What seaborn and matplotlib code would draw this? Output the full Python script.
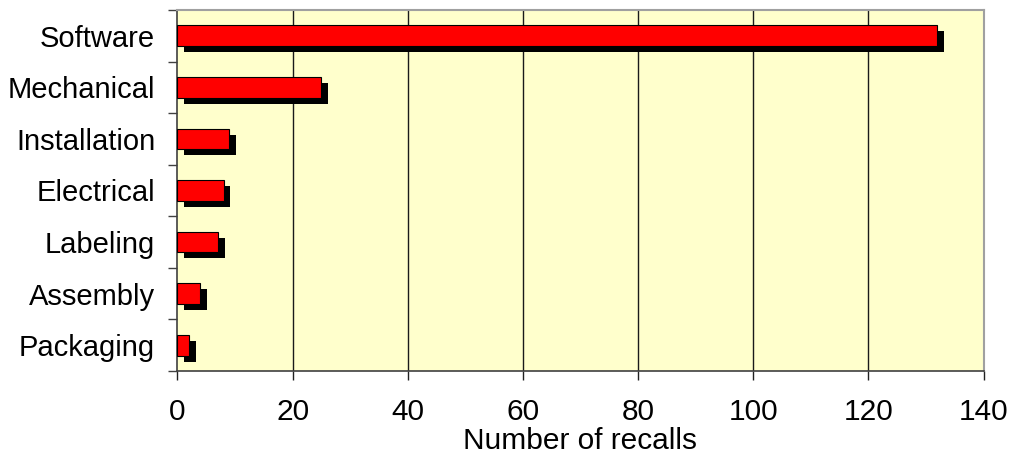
import matplotlib
matplotlib.use("Agg")
import matplotlib.pyplot as plt
import matplotlib.patheffects as pe
from matplotlib.ticker import FixedLocator
import seaborn as sns
import pandas as pd

categories = ["Software", "Mechanical", "Installation", "Electrical", "Labeling", "Assembly", "Packaging"]
recalls = [132, 25, 9, 8, 7, 4, 2]
x_ticks = [0, 20, 40, 60, 80, 100, 120, 140]
x_label = "Number of recalls"

sns.set_theme(style="white")
plt.rcParams['font.family'] = ['Liberation Sans', 'DejaVu Sans']

df = pd.DataFrame({"category": categories, "recalls": recalls})

fig = plt.figure(figsize=(10.1, 4.54), dpi=100)
ax = fig.add_axes([0.1757, 0.1828, 0.7981, 0.7952])
ax.set_facecolor("#FFFFCC")

sns.barplot(data=df, x="recalls", y="category", orient="h", color="#FF0000",
            saturation=1, width=0.4, edgecolor="black", linewidth=0.8, ax=ax, zorder=3)

for p in ax.patches:
    p.set_path_effects([pe.SimplePatchShadow(offset=(5, -4.3), shadow_rgbFace="black", alpha=1.0),
                        pe.Normal()])

ax.set_xlim(x_ticks[0], x_ticks[-1])
ax.set_ylim(len(categories) - 0.5, -0.5)
ax.set_xticks(x_ticks)
ax.set_xticklabels([str(t) for t in x_ticks])

for t in x_ticks[1:-1]:
    ax.axvline(t, color="#1A1A1A", lw=1.0, zorder=1)

ax.yaxis.set_minor_locator(FixedLocator([i - 0.5 for i in range(len(categories) + 1)]))
ax.tick_params(axis="y", which="major", length=0, pad=16, labelsize=21, colors="black")
ax.tick_params(axis="y", which="minor", left=True, length=6.5, width=1.0, color="#404040")
ax.tick_params(axis="x", which="major", bottom=True, length=6.2, width=1.0, color="#202020",
               pad=13.5, labelsize=21.5, labelcolor="black")

ax.set_xlabel(x_label, fontsize=21.5, labelpad=0.5, color="black")
ax.set_ylabel("")

for side in ["left", "bottom"]:
    ax.spines[side].set_color("#404040")
    ax.spines[side].set_linewidth(1.2)
for side in ["top", "right"]:
    ax.spines[side].set_color("#A0A0A0")
    ax.spines[side].set_linewidth(1.5)
    ax.spines[side].set_visible(True)

fig.savefig("out.png", dpi=100)
